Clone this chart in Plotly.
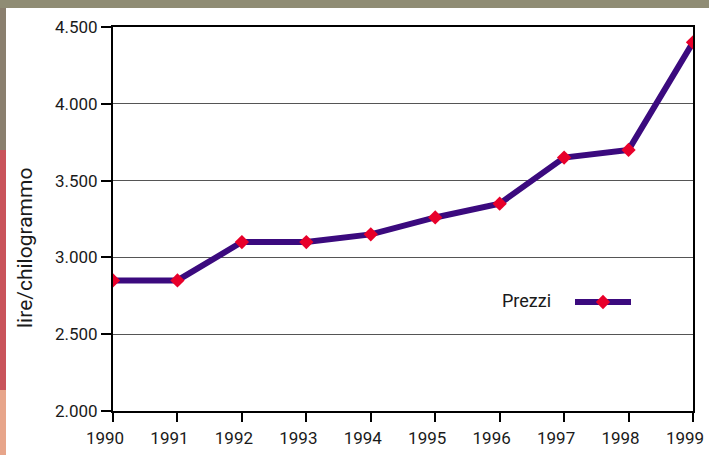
import plotly.graph_objects as go

years = [1990, 1991, 1992, 1993, 1994, 1995, 1996, 1997, 1998, 1999]
prezzi = [2850, 2850, 3100, 3100, 3150, 3260, 3350, 3650, 3700, 4400]
y_ticks = [2000, 2500, 3000, 3500, 4000, 4500]
series_name = "Prezzi"
y_title = "lire/chilogrammo"

FONT = "Roboto, Liberation Sans, sans-serif"

W, H = 709, 455
L, R, T, B = 113, 16, 27, 44
PW, PH = W - L - R, H - T - B


def px(x):
    return (x - L) / PW


def py(y):
    return (H - B - y) / PH


fig = go.Figure()
fig.add_trace(go.Scatter(
    x=years, y=prezzi, mode="lines+markers", name="",
    line=dict(color="#3b0a7e", width=6),
    marker=dict(symbol="diamond", size=11, color="#e8002a"),
    showlegend=True,
))

shapes = [
    # textured backdrop strips (approximation of the photo background)
    dict(type="rect", xref="paper", yref="paper", x0=px(0), x1=px(W),
         y0=py(8), y1=py(0), fillcolor="#8f8c74", line_width=0, layer="below"),
    dict(type="rect", xref="paper", yref="paper", x0=px(0), x1=px(6),
         y0=py(150), y1=py(8), fillcolor="#8a7f6e", line_width=0, layer="below"),
    dict(type="rect", xref="paper", yref="paper", x0=px(0), x1=px(6),
         y0=py(390), y1=py(150), fillcolor="#c9545b", line_width=0, layer="below"),
    dict(type="rect", xref="paper", yref="paper", x0=px(0), x1=px(6),
         y0=py(H), y1=py(390), fillcolor="#e7a58a", line_width=0, layer="below"),
]

fig.update_layout(
    width=W, height=H,
    margin=dict(l=L, r=R, t=T, b=B, autoexpand=False),
    paper_bgcolor="white", plot_bgcolor="white",
    separators=",.",
    font=dict(family=FONT, size=17, color="#1a1a1a"),
    shapes=shapes,
    showlegend=True,
    legend=dict(
        x=px(570), y=py(302), xanchor="left", yanchor="middle",
        bgcolor="rgba(0,0,0,0)",
        itemwidth=56, font=dict(size=1),
    ),
    annotations=[
        dict(text=y_title, textangle=-90, xref="paper", yref="paper",
             x=px(25), y=py(248), xanchor="center", yanchor="middle",
             showarrow=False, font=dict(size=21, color="#1a1a1a")),
        dict(text=series_name, xref="paper", yref="paper",
             x=px(553), y=py(300), xanchor="right", yanchor="middle",
             showarrow=False, font=dict(size=18, color="#1a1a1a")),
    ],
    xaxis=dict(
        range=[1990, 1999], tickmode="array", tickvals=years,
        ticktext=[str(y) for y in years], automargin=False,
        ticklabeloverflow="allow", ticklabelshift=-8, ticklabelstandoff=2,
        showgrid=False, showline=True, linecolor="black", linewidth=2,
        mirror=True, ticks="outside", ticklen=9, tickwidth=2, tickcolor="black",
        zeroline=False,
    ),
    yaxis=dict(
        range=[2000, 4500], tickmode="array", tickvals=y_ticks,
        tickformat=",d", automargin=False, ticklabeloverflow="allow",
        showgrid=True, gridcolor="#555555", gridwidth=1,
        showline=True, linecolor="black", linewidth=2, mirror=True,
        ticks="outside", ticklen=10, tickwidth=2, tickcolor="black",
        zeroline=False,
    ),
)

fig.write_html(
    "out.html",
    config={"displayModeBar": False},
    post_script="document.body.style.margin='0';document.body.style.overflow='hidden';",
)
